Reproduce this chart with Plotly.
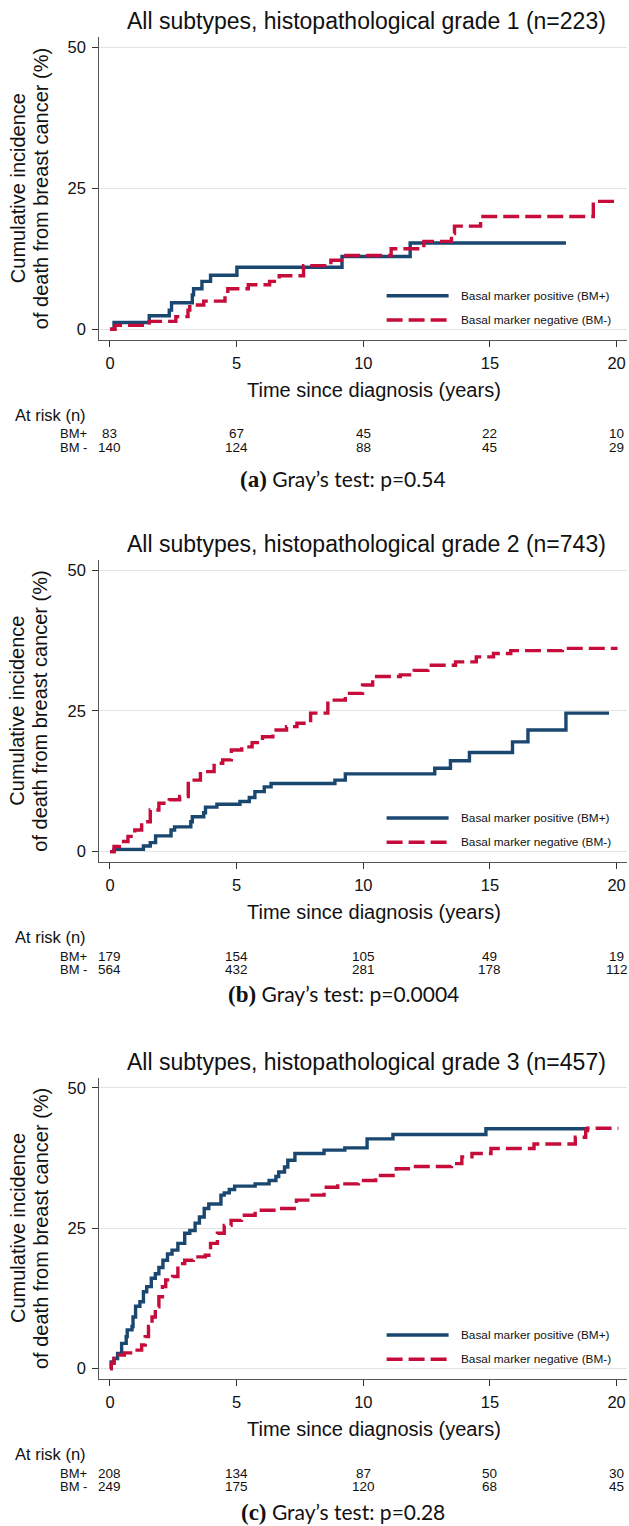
import plotly.graph_objects as go

W, H = 629, 1526
BLUE = "#1a476f"
RED = "#c60c3a"

# ---------------- data ----------------
titles = [
    "All subtypes, histopathological grade 1 (n=223)",
    "All subtypes, histopathological grade 2 (n=743)",
    "All subtypes, histopathological grade 3 (n=457)",
]
captions = [("(a)", "Gray’s test: p=0.54"), ("(b)", "Gray’s test: p=0.0004"), ("(c)", "Gray’s test: p=0.28")]
legend_labels = ["Basal marker positive (BM+)", "Basal marker negative (BM-)"]
x_ticks = [0, 5, 10, 15, 20]
y_ticks = [0, 25, 50]
risk_times = [0, 5, 10, 15, 20]
risk_rows = ["BM+", "BM -"]

# Panel a (grade 1)
a_pos_t = [0, 0.16, 1.55, 2.34, 2.43, 3.25, 3.30, 3.63, 3.97, 5.01, 9.16, 11.85, 18.0]
a_pos_y = [0, 1.2, 2.4, 3.4, 4.7, 6.1, 7.2, 8.5, 9.6, 11.0, 12.9, 15.3, 15.3]
a_neg_t = [0, 0.2, 1.55, 2.6, 3.08, 3.15, 3.7, 4.54, 4.65, 5.46, 6.3, 6.68, 7.64, 8.72,
           9.2, 11.1, 12.39, 13.48, 13.6, 14.63, 19.08, 20.07]
a_neg_y = [0, 0.7, 1.4, 2.25, 3.4, 4.3, 5.0, 6.4, 7.2, 7.9, 8.5, 9.5, 11.3, 12.25,
           13.1, 14.3, 15.6, 17.0, 18.3, 20.0, 22.7, 22.7]
a_risk_pos = [83, 67, 45, 22, 10]
a_risk_neg = [140, 124, 88, 45, 29]

# Panel b (grade 2)
b_pos_t = [0, 0.16, 1.32, 1.59, 1.80, 2.41, 2.55, 3.19, 3.25, 3.70, 3.77, 4.22, 5.13, 5.50,
           5.72, 6.09, 6.36, 8.88, 9.29, 12.82, 13.44, 14.19, 15.89, 16.50, 18.0, 19.7]
b_pos_y = [0, 0.4, 1.0, 1.6, 2.8, 3.85, 4.4, 5.3, 6.2, 6.9, 7.9, 8.4, 8.9, 9.6,
           10.65, 11.5, 12.1, 12.7, 13.8, 14.8, 16.15, 17.6, 19.5, 21.6, 24.6, 24.6]
b_neg_t = [0, 0.16, 0.37, 0.71, 0.98, 1.25, 1.59, 1.93, 2.34, 2.75, 3.09, 3.57, 4.11, 4.45,
           4.79, 5.2, 5.61, 6.02, 6.43, 6.97, 7.38, 7.92, 8.6, 9.29, 9.97, 10.37, 11.46,
           12.01, 12.55, 13.64, 14.46, 15.14, 15.82, 17.86, 19.97]
b_neg_y = [0, 0.9, 1.8, 2.7, 3.85, 5.3, 7.4, 8.6, 9.2, 9.8, 12.7, 14.2, 15.7, 16.3,
           18.05, 18.6, 19.35, 20.4, 21.6, 22.2, 22.8, 24.6, 26.9, 28.1, 29.6, 31.1, 31.4,
           32.2, 33.1, 33.7, 34.6, 35.2, 35.7, 36.1, 36.4]
b_risk_pos = [179, 154, 105, 49, 19]
b_risk_neg = [564, 432, 281, 178, 112]

# Panel c (grade 3)
c_pos_t = [0, 0.05, 0.16, 0.30, 0.46, 0.64, 0.68, 0.87, 0.91, 1.01, 1.18, 1.32, 1.45, 1.63,
           1.79, 1.93, 2.09, 2.27, 2.45, 2.68, 2.95, 3.15, 3.36, 3.53, 3.72, 3.90, 4.38,
           4.51, 4.71, 4.92, 5.73, 6.28, 6.55, 6.66, 6.89, 7.02, 7.30, 8.45, 9.27, 10.15,
           11.17, 14.84, 18.85]
c_pos_y = [0, 1.2, 1.8, 2.7, 4.5, 5.7, 6.9, 7.5, 9.2, 11.1, 11.9, 13.7, 14.6, 16.1,
           16.9, 18.0, 19.3, 20.4, 21.1, 22.3, 24.1, 24.6, 25.9, 27.0, 28.5, 29.3, 30.9,
           31.3, 31.9, 32.5, 32.9, 33.5, 34.2, 35.0, 35.9, 37.1, 38.3, 38.9, 39.3, 40.9,
           41.7, 42.7, 42.7]
c_neg_t = [0, 0.05, 0.16, 0.37, 0.57, 0.98, 1.25, 1.39, 1.52, 1.66, 1.79, 1.93, 2.07, 2.20,
           2.47, 2.68, 2.95, 3.29, 3.76, 3.97, 4.24, 4.51, 4.78, 5.19, 5.73, 6.55, 7.36,
           7.91, 8.45, 8.99, 9.81, 10.49, 11.30, 11.92, 13.48, 13.89, 14.29, 15.04, 16.74,
           18.37, 18.78, 18.85, 20.07]
c_neg_y = [0, 0.95, 1.8, 2.4, 2.8, 3.3, 4.2, 5.7, 7.5, 9.2, 11.0, 12.8, 14.6, 15.8,
           16.4, 18.7, 19.3, 19.9, 20.2, 22.3, 24.1, 25.5, 26.4, 27.3, 28.2, 28.5, 30.0,
           30.9, 32.3, 32.9, 33.5, 34.4, 35.6, 36.0, 36.5, 37.7, 38.3, 39.2, 40.0,
           41.2, 42.4, 42.8, 42.8]
c_risk_pos = [208, 134, 87, 50, 30]
c_risk_neg = [249, 175, 120, 68, 45]

curves = [
    (a_pos_t, a_pos_y, a_neg_t, a_neg_y, a_risk_pos, a_risk_neg),
    (b_pos_t, b_pos_y, b_neg_t, b_neg_y, b_risk_pos, b_risk_neg),
    (c_pos_t, c_pos_y, c_neg_t, c_neg_y, c_risk_pos, c_risk_neg),
]

# ---------------- layout geometry (pixels) ----------------
X_LEFT, X_RIGHT = 99.3, 627.0
panel_px = [(37.3, 340.0), (560.0, 862.3), (1077.7, 1379.3)]
caption_y = [479.0, 994.0, 1512.0]
LW = 3.4
DASH = "16px,6px"


def fx(p):
    return p / W


def fy(p):
    return 1 - p / H


FONT = "Liberation Sans, Arial, sans-serif"

fig = go.Figure()
annotations = []
shapes = []
layout = {}

for i, ((pt, py_, nt, ny, rp, rn), (top, bot)) in enumerate(zip(curves, panel_px)):
    n = "" if i == 0 else str(i + 1)
    xa, ya = "x" + n, "y" + n
    fig.add_trace(go.Scatter(x=pt, y=py_, mode="lines", line=dict(color=BLUE, width=LW, shape="hv"),
                             xaxis=xa, yaxis=ya, showlegend=False, name=legend_labels[0]))
    fig.add_trace(go.Scatter(x=nt, y=ny, mode="lines",
                             line=dict(color=RED, width=LW, shape="hv", dash=DASH),
                             xaxis=xa, yaxis=ya, showlegend=False, name=legend_labels[1]))
    layout["xaxis" + n] = dict(
        domain=[fx(X_LEFT), fx(X_RIGHT)], range=[-0.422, 20.41], anchor=ya,
        tickvals=x_ticks, ticks="outside", ticklen=6, tickwidth=1, tickcolor="#333",
        showline=True, linecolor="#555", linewidth=1.3, showgrid=False, zeroline=False,
        tickfont=dict(family=FONT, size=16.5, color="#111"), ticklabelstandoff=2,
    )
    layout["yaxis" + n] = dict(
        domain=[fy(bot), fy(top)], range=[-1.9, 51.8], anchor=xa,
        tickvals=y_ticks, ticks="outside", ticklen=6, tickwidth=1, tickcolor="#333",
        showline=True, linecolor="#555", linewidth=1.3, showgrid=True, gridcolor="#e2e2e2",
        gridwidth=1.2, zeroline=False,
        tickfont=dict(family=FONT, size=16.5, color="#111"), ticklabelstandoff=3,
    )
    # title
    annotations.append(dict(text=titles[i], x=fx(366), y=fy(top - 16.0), xref="paper", yref="paper",
                            xanchor="center", yanchor="middle", showarrow=False,
                            font=dict(family=FONT, size=23, color="#111")))
    # y-axis title (two lines)
    ymid = (top + bot) / 2
    for txt, xc in (("Cumulative incidence", 17.5), ("of death from breast cancer (%)", 40.5)):
        annotations.append(dict(text=txt, x=fx(xc), y=fy(ymid), xref="paper", yref="paper",
                                xanchor="center", yanchor="middle", textangle=-90, showarrow=False,
                                font=dict(family=FONT, size=20, color="#111")))
    # x-axis title
    annotations.append(dict(text="Time since diagnosis (years)", x=fx(374), y=fy(bot + 49.5),
                            xref="paper", yref="paper", xanchor="center", yanchor="middle",
                            showarrow=False, font=dict(family=FONT, size=20, color="#111")))
    # legend (drawn manually)
    for k, (col, dash) in enumerate(((BLUE, "solid"), (RED, DASH))):
        ly = bot - 44.3 + k * 24.3
        shapes.append(dict(type="line", xref="paper", yref="paper", x0=fx(386.6), x1=fx(448.6),
                           y0=fy(ly), y1=fy(ly), line=dict(color=col, width=LW, dash=dash)))
        annotations.append(dict(text=legend_labels[k], x=fx(459), y=fy(ly), xref="paper", yref="paper",
                                xanchor="left", yanchor="middle", showarrow=False,
                                font=dict(family=FONT, size=11.8, color="#111")))
    # risk table
    annotations.append(dict(text="At risk (n)", x=fx(12.7), y=fy(bot + 75), xref="paper", yref="paper",
                            xanchor="left", yanchor="middle", showarrow=False,
                            font=dict(family=FONT, size=16.5, color="#111")))
    for r, (lab, vals, dy) in enumerate(((risk_rows[0], rp, 93.8), (risk_rows[1], rn, 107.2))):
        annotations.append(dict(text=lab, x=fx(58.3), y=fy(bot + dy), xref="paper", yref="paper",
                                xanchor="left", yanchor="middle", showarrow=False,
                                font=dict(family=FONT, size=13, color="#111")))
        for t, v in zip(risk_times, vals):
            annotations.append(dict(text=str(v), x=t, y=fy(bot + dy), xref=xa, yref="paper",
                                    xanchor="center", yanchor="middle", showarrow=False,
                                    font=dict(family=FONT, size=13.5, color="#111")))
    # caption
    lab, cap = captions[i]
    annotations.append(dict(
        text='<span style="font-family:Liberation Serif, Times New Roman, serif;font-size:23px"><b>' + lab + "</b></span> " + cap,
        x=fx(343), y=fy(caption_y[i]), xref="paper", yref="paper", xanchor="center", yanchor="middle",
        showarrow=False, font=dict(family="Lato, Carlito, sans-serif", size=21, color="#111")))

fig.update_layout(
    width=W, height=H, margin=dict(l=0, r=0, t=0, b=0),
    paper_bgcolor="white", plot_bgcolor="white", showlegend=False,
    annotations=annotations, shapes=shapes, **layout,
)

fig.write_html("out.html")
